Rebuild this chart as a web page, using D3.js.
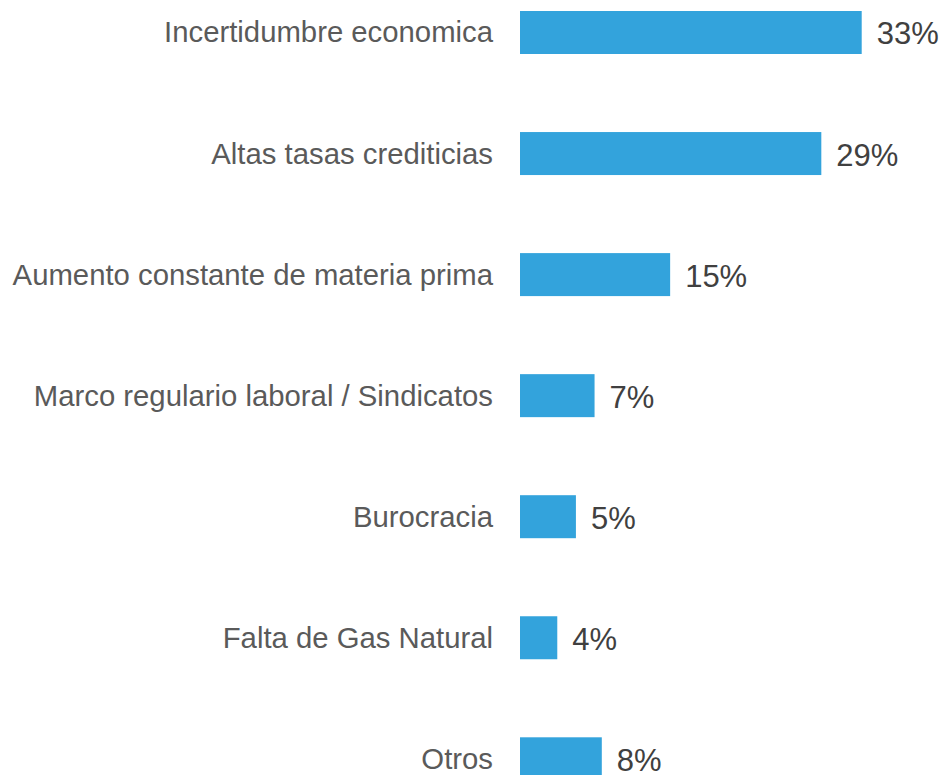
<!DOCTYPE html>
<html>
<head>
<meta charset="utf-8">
<script src="https://cdn.jsdelivr.net/npm/d3@7"></script>
<style>
  body { margin: 0; background: #fff; }
  svg { display: block; }
</style>
</head>
<body>
<div id="chart"></div>
<script>
// categories, top to bottom
var categories = [
  "Incertidumbre economica",
  "Altas tasas crediticias",
  "Aumento constante de materia prima",
  "Marco regulario laboral / Sindicatos",
  "Burocracia",
  "Falta de Gas Natural",
  "Otros"
];
// share of answers (%)
var values = [33, 29.1, 14.5, 7.2, 5.4, 3.6, 7.9];

var width = 944, height = 775;

var svg = d3.select("#chart")
  .append("svg")
    .attr("width", width)
    .attr("height", height);

var data = categories.map(function(c, i) { return {name: c, value: values[i]}; });

// x scale: bars start at 520
var x = d3.scaleLinear()
  .domain([0, 33])
  .range([520, 861.7]);

// y scale: one band per category
var y = d3.scaleBand()
  .domain(categories)
  .range([11, 780.3])
  .paddingInner(0.6448)
  .paddingOuter(0);

// bars
svg.append("g")
  .selectAll("rect")
  .data(data)
  .enter()
  .append("rect")
    .attr("x", x(0))
    .attr("y", function(d) { return y(d.name); })
    .attr("width", function(d) { return x(d.value) - x(0); })
    .attr("height", y.bandwidth())
    .style("fill", "#33a3dc");

// category labels
svg.append("g")
  .selectAll("text")
  .data(data)
  .enter()
  .append("text")
    .text(function(d) { return d.name; })
    .attr("x", 493)
    .attr("y", function(d) { return y(d.name) + y.bandwidth() / 2 + 10; })
    .attr("text-anchor", "end")
    .attr("font-family", "Liberation Sans, Arial, sans-serif")
    .attr("font-size", "29.3px")
    .style("fill", "#5a5a5a");

// value labels
svg.append("g")
  .selectAll("text")
  .data(data)
  .enter()
  .append("text")
    .text(function(d) { return Math.round(d.value) + "%"; })
    .attr("x", function(d) { return x(d.value) + 15; })
    .attr("y", function(d) { return y(d.name) + y.bandwidth() / 2 + 12; })
    .attr("font-family", "Liberation Sans, Arial, sans-serif")
    .attr("font-size", "31px")
    .style("fill", "#404040");
</script>
</body>
</html>
